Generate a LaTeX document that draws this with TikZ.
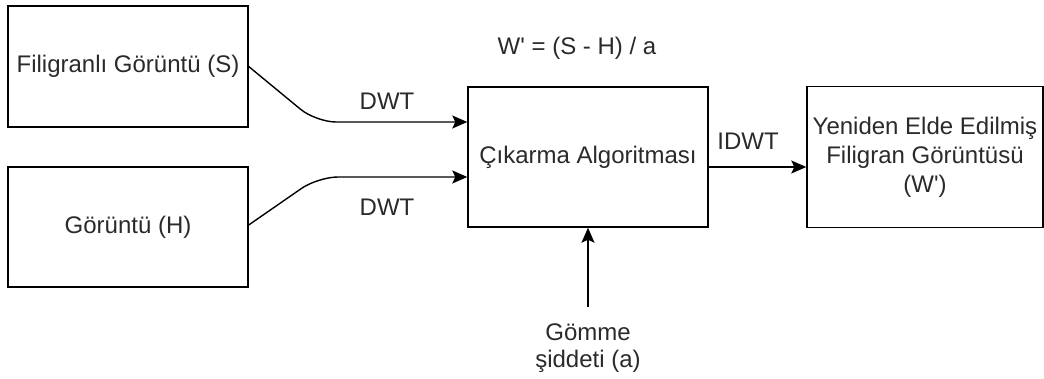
\documentclass[tikz,border=0pt]{standalone}
\usepackage{fontspec}
\setmainfont{Liberation Sans}[Ligatures=TeXOff]
\usetikzlibrary{arrows.meta}
\definecolor{txt}{HTML}{2A2A2A}
\begin{document}
\begin{tikzpicture}[x=1pt,y=-1pt,
  box/.style={draw=black, line width=1.4pt, inner sep=0pt, align=center,
    text=txt, font=\fontsize{24}{29}\selectfont},
  lbl/.style={text=txt, font=\fontsize{24}{27}\selectfont, inner sep=0pt, align=center},
  conn/.style={draw=black, line width=1.4pt, rounded corners=20pt,
    -{Stealth[length=15pt,width=13pt,inset=3pt]}}
]
\useasboundingbox (0,0) rectangle (1044,379);
\node[box, minimum width=240pt, minimum height=121pt] (s) at (128,66.5) {Filigranlı Görüntü (S)};
\node[box, minimum width=240pt, minimum height=120pt] (h) at (128,227) {Görüntü (H)};
\node[box, minimum width=240pt, minimum height=140pt] (m) at (588,157) {Çıkarma Algoritması};
\node[box, minimum width=236pt, minimum height=141pt] (r) at (925,157) {Yeniden Elde Edilmiş\\Filigran Görüntüsü\\(W')};
\coordinate (k1) at (316,122);
\coordinate (k2) at (318,177);
\coordinate (g) at (588,307);
\draw[conn] (s.east) -- (k1) -- ([yshift=35pt]m.west);
\draw[conn] ([yshift=2pt]h.east) -- (k2) -- ([yshift=-20pt]m.west);
\draw[conn] ([yshift=-10pt]m.east) -- ([yshift=-10pt]r.west);
\draw[conn] (g) -- (m.south);
\node[lbl] (f) at (577,48) {W' = (S - H) / a};
\node[lbl] (d1) at (387,101) {DWT};
\node[lbl] (d2) at (387,207) {DWT};
\node[lbl] (i) at (748,141) {IDWT};
\node[lbl] (ga) at (588,348.5) {Gömme\\şiddeti (a)};
\end{tikzpicture}
\end{document}
